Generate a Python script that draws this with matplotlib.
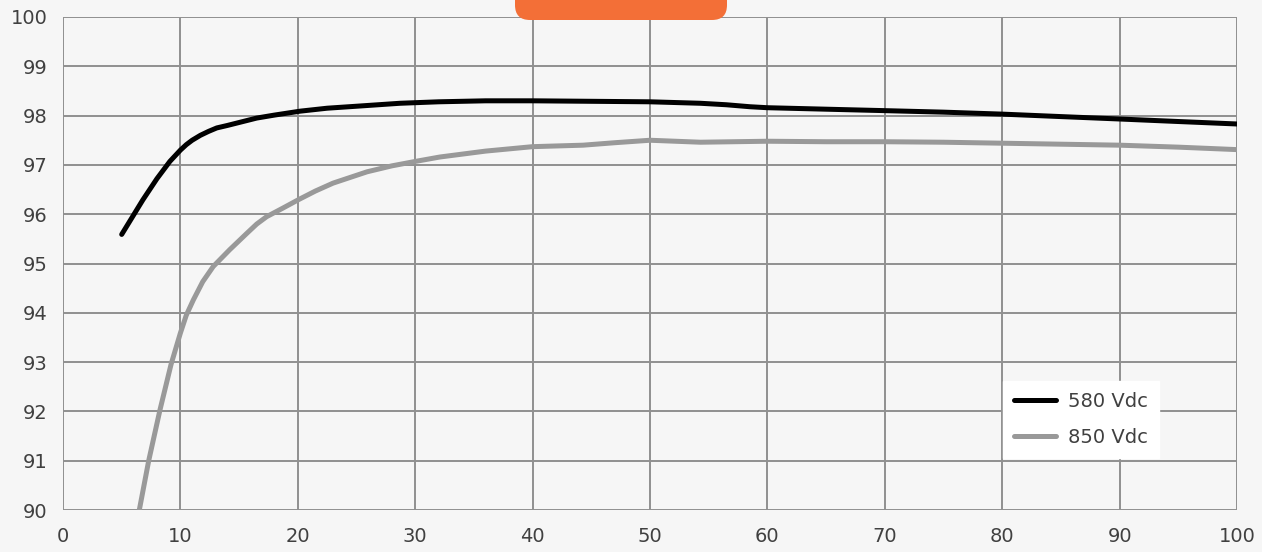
import matplotlib
matplotlib.use("Agg")
import matplotlib.pyplot as plt
from matplotlib.patches import FancyBboxPatch

# Data
x_580 = [5.0, 6.8, 8.0, 9.1, 10.0, 10.5, 11.0, 11.7, 12.4, 13.1, 14.0, 15.0, 16.5, 18.0, 20.2,
         22.5, 25.0, 28.7, 32.0, 36.0, 40.0, 45.0, 50.0, 54.3, 56.5, 58.5, 60.0, 65.0, 70.1,
         75.0, 80.0, 85.0, 90.1, 95.0, 100.0]
y_580 = [95.59, 96.29, 96.72, 97.07, 97.30, 97.41, 97.50, 97.60, 97.68, 97.75, 97.80, 97.86,
         97.95, 98.01, 98.09, 98.15, 98.19, 98.25, 98.28, 98.30, 98.30, 98.29, 98.28, 98.25,
         98.22, 98.18, 98.16, 98.13, 98.10, 98.07, 98.03, 97.98, 97.93, 97.88, 97.83]

x_850 = [6.5, 7.3, 8.26, 9.2, 10.0, 10.5, 11.1, 11.9, 12.8, 14.2, 15.65, 16.5, 17.35, 18.7,
         20.1, 21.5, 23.0, 25.9, 28.0, 30.0, 32.1, 36.0, 40.0, 44.3, 47.0, 50.0, 54.3, 60.0,
         65.0, 70.0, 75.0, 80.0, 85.0, 90.0, 95.0, 100.0]
y_850 = [90.00, 91.00, 92.03, 92.95, 93.59, 93.95, 94.26, 94.63, 94.94, 95.28, 95.61, 95.80,
         95.95, 96.12, 96.30, 96.47, 96.63, 96.86, 96.98, 97.07, 97.16, 97.28, 97.37, 97.40,
         97.45, 97.50, 97.46, 97.48, 97.47, 97.47, 97.46, 97.44, 97.42, 97.40, 97.36, 97.31]

labels = ["580 Vdc", "850 Vdc"]
x_ticks = list(range(0, 101, 10))
y_ticks = list(range(90, 101, 1))

bg = "#f6f6f6"
txt = "#404040"
plt.rcParams["font.family"] = ["DejaVu Sans"]

fig = plt.figure(figsize=(12.62, 5.52), dpi=100, facecolor=bg)
ax = fig.add_axes([63 / 1262, 42 / 552, 1174 / 1262, 493 / 552])
ax.set_facecolor(bg)

ax.plot(x_580, y_580, color="#000000", lw=3.6, solid_capstyle="round",
        solid_joinstyle="round", label=labels[0], zorder=3)
ax.plot(x_850, y_850, color="#999999", lw=3.6, solid_capstyle="round",
        solid_joinstyle="round", label=labels[1], zorder=3)

ax.set_xlim(0, 100)
ax.set_ylim(90, 100)
ax.set_xticks(x_ticks)
ax.set_yticks(y_ticks)
ax.grid(True, color="#909090", lw=1.4, zorder=1)
for s in ax.spines.values():
    s.set_visible(False)
ax.tick_params(length=0, labelsize=14, colors=txt)
ax.tick_params(axis="y", pad=11)
ax.tick_params(axis="x", pad=12)

leg = ax.legend(loc="upper left", bbox_to_anchor=((1003 - 63) / 1174, (510 - 381) / 493),
                frameon=True, fancybox=False, fontsize=14, handlelength=2.2,
                borderpad=0.55, labelspacing=0.9, handletextpad=0.6, borderaxespad=0)
leg.get_frame().set_facecolor("white")
leg.get_frame().set_edgecolor("white")
leg.get_frame().set_alpha(1)
for t in leg.get_texts():
    t.set_color(txt)

# orange rounded tab at top centre
tab = FancyBboxPatch((5.15, 5.32), 2.12, 0.6, boxstyle="round,pad=0,rounding_size=0.15",
                     transform=fig.dpi_scale_trans, facecolor="#f36f37", edgecolor="none",
                     zorder=10, clip_on=False)
fig.patches.append(tab)

fig.savefig("out.png", dpi=100, facecolor=bg)
